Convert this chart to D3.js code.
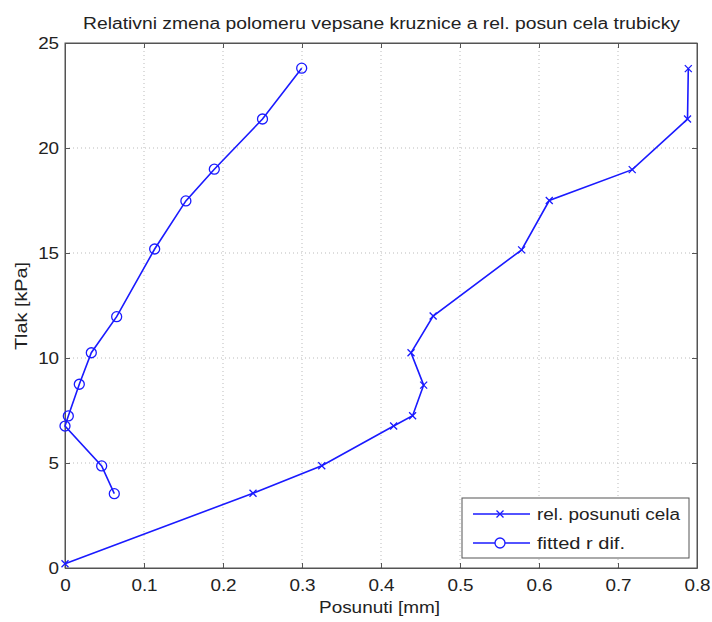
<!DOCTYPE html>
<html><head><meta charset="utf-8">
<script src="https://cdn.jsdelivr.net/npm/d3@7"></script>
<style>body{margin:0;background:#fff;} svg{display:block;}</style>
</head><body>
<svg id="c" width="712" height="622"></svg>
<script>
const title = "Relativni zmena polomeru vepsane kruznice a rel. posun cela trubicky";
const xLabel = "Posunuti [mm]";
const yLabel = "Tlak [kPa]";
const xTicks = [0, 0.1, 0.2, 0.3, 0.4, 0.5, 0.6, 0.7, 0.8];
const yTicks = [0, 5, 10, 15, 20, 25];
const seriesNames = ["rel. posunuti cela", "fitted r dif."];
// series 1: rel. posunuti cela (x markers)
const celaX = [0, 0.238, 0.325, 0.416, 0.440, 0.454, 0.438, 0.466, 0.578, 0.613, 0.718, 0.788, 0.789];
const celaY = [0.2, 3.56, 4.87, 6.76, 7.25, 8.71, 10.25, 12.0, 15.15, 17.5, 18.97, 21.38, 23.78];
// series 2: fitted r dif. (o markers)
const fitX = [0.0624, 0.0464, 0.0, 0.0042, 0.0181, 0.0333, 0.0654, 0.1135, 0.153, 0.189, 0.250, 0.2996];
const fitY = [3.54, 4.86, 6.76, 7.24, 8.75, 10.25, 11.97, 15.19, 17.48, 18.99, 21.38, 23.8];

const svg = d3.select("#c");
const L = 65, R = 697, T = 43, B = 568;
const x = d3.scaleLinear().domain([0, 0.8]).range([L, R]);
const y = d3.scaleLinear().domain([0, 25]).range([B, T]);
const font = "'Liberation Sans', Arial, sans-serif";
const blue = "#1a1aff";
const txt = "#222";

// grid
const g = svg.append("g");
xTicks.slice(1, -1).forEach(t => g.append("line").attr("x1", x(t)).attr("x2", x(t)).attr("y1", T).attr("y2", B)
  .attr("stroke", "#bbb").attr("stroke-width", 1).attr("stroke-dasharray", "1,3"));
yTicks.slice(1, -1).forEach(t => g.append("line").attr("x1", L).attr("x2", R).attr("y1", y(t)).attr("y2", y(t))
  .attr("stroke", "#bbb").attr("stroke-width", 1).attr("stroke-dasharray", "1,3"));

// axes (ticks inside)
const ax = svg.append("g").attr("transform", `translate(0,${B})`)
  .call(d3.axisBottom(x).tickValues(xTicks).tickFormat(d => String(+d.toFixed(1))).tickSizeInner(-5).tickSizeOuter(0).tickPadding(12));
const axT = svg.append("g").attr("transform", `translate(0,${T})`)
  .call(d3.axisTop(x).tickValues(xTicks).tickFormat("").tickSizeInner(-5).tickSizeOuter(0));
const ay = svg.append("g").attr("transform", `translate(${L},0)`)
  .call(d3.axisLeft(y).tickValues(yTicks).tickSizeInner(-5).tickSizeOuter(0).tickPadding(5));
const ayR = svg.append("g").attr("transform", `translate(${R},0)`)
  .call(d3.axisRight(y).tickValues(yTicks).tickFormat("").tickSizeInner(-5).tickSizeOuter(0));
[ax, axT, ay, ayR].forEach(a => {
  a.selectAll("path").attr("stroke", "#555");
  a.selectAll("line").attr("stroke", "#555");
  a.selectAll("text").attr("font-family", font).attr("font-size", 16).attr("fill", txt);
});
ax.selectAll(".tick text").attr("transform", "scale(1.18,1)");
ay.selectAll(".tick text").attr("transform", "scale(1.18,1)");
svg.append("rect").attr("x", L).attr("y", T).attr("width", R - L).attr("height", B - T)
  .attr("fill", "none").attr("stroke", "#555").attr("stroke-width", 1);

// lines
const line = d3.line().x(d => x(d[0])).y(d => y(d[1]));
const cela = celaX.map((v, i) => [v, celaY[i]]);
const fit = fitX.map((v, i) => [v, fitY[i]]);
svg.append("path").datum(cela).attr("d", line).attr("fill", "none").attr("stroke", blue).attr("stroke-width", 1.6);
svg.append("path").datum(fit).attr("d", line).attr("fill", "none").attr("stroke", blue).attr("stroke-width", 1.6);
function cross(sel, cx, cy, s) {
  sel.append("path").attr("d", `M${cx - s},${cy - s}L${cx + s},${cy + s}M${cx - s},${cy + s}L${cx + s},${cy - s}`)
    .attr("stroke", blue).attr("stroke-width", 1.3).attr("fill", "none");
}
cela.forEach(d => cross(svg, x(d[0]), y(d[1]), 3.5));
svg.selectAll("circle.m").data(fit).enter().append("circle").attr("class", "m")
  .attr("cx", d => x(d[0])).attr("cy", d => y(d[1])).attr("r", 5)
  .attr("fill", "none").attr("stroke", blue).attr("stroke-width", 1.3);

// legend
const lg = svg.append("g");
lg.append("rect").attr("x", 462).attr("y", 498).attr("width", 227).attr("height", 60)
  .attr("fill", "#fff").attr("stroke", "#555").attr("stroke-width", 1);
const legW = [143, 88];
[0, 1].forEach(i => {
  const yy = 514 + i * 29;
  lg.append("line").attr("x1", 473).attr("x2", 530).attr("y1", yy).attr("y2", yy).attr("stroke", blue).attr("stroke-width", 1.6);
  if (i === 0) cross(lg, 500, yy, 3.5);
  else lg.append("circle").attr("cx", 500).attr("cy", yy).attr("r", 5).attr("fill", "#fff").attr("stroke", blue).attr("stroke-width", 1.3);
  lg.append("text").attr("x", 537).attr("y", yy + 6).attr("font-family", font).attr("font-size", 16).attr("fill", txt)
    .attr("textLength", legW[i]).attr("lengthAdjust", "spacingAndGlyphs").text(seriesNames[i]);
});

// labels
svg.append("text").attr("x", 83).attr("y", 29).attr("font-family", font).attr("font-size", 16).attr("fill", txt)
  .attr("textLength", 597).attr("lengthAdjust", "spacingAndGlyphs").text(title);
svg.append("text").attr("x", 319).attr("y", 613).attr("font-family", font).attr("font-size", 16).attr("fill", txt)
  .attr("textLength", 121).attr("lengthAdjust", "spacingAndGlyphs").text(xLabel);
svg.append("text").attr("transform", "translate(27,350) rotate(-90)").attr("font-family", font).attr("font-size", 16).attr("fill", txt)
  .attr("textLength", 88).attr("lengthAdjust", "spacingAndGlyphs").text(yLabel);
</script>
</body></html>
